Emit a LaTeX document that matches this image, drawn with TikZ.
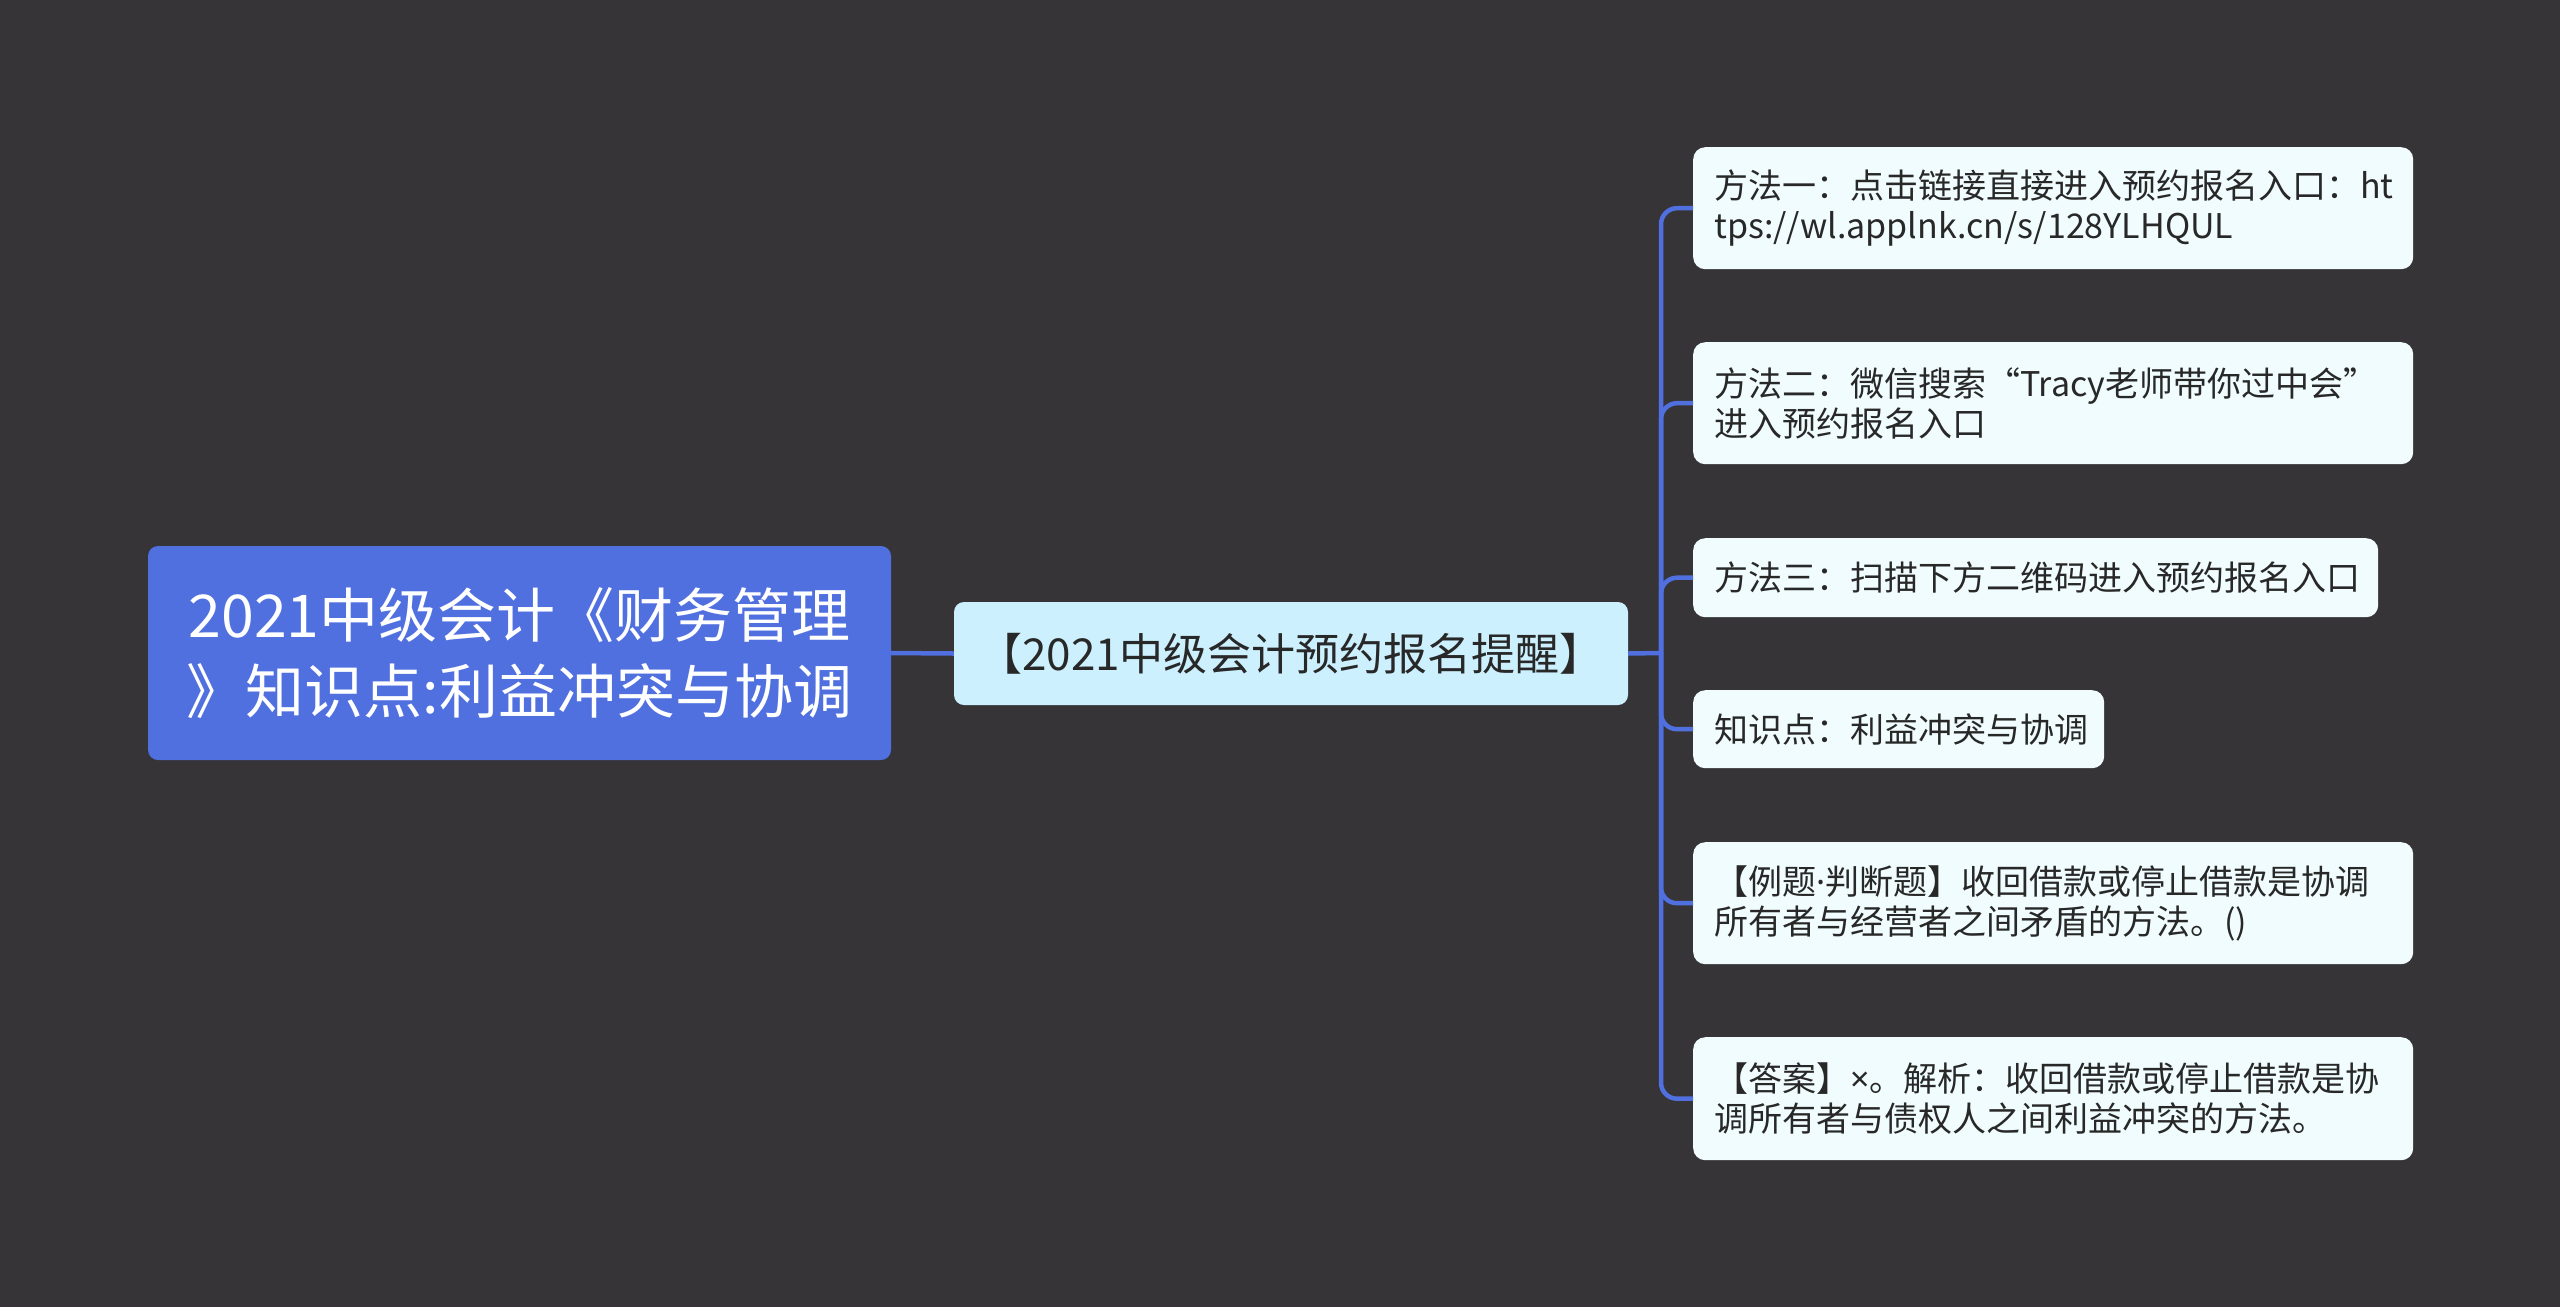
\documentclass[tikz,border=0pt]{standalone}
\usepackage{fontspec}
\newfontfamily\cjk{Noto Sans CJK SC}
\newfontfamily\latn{Noto Sans}
\definecolor{bg}{RGB}{54,52,54}
\definecolor{rootblue}{RGB}{80,112,224}
\definecolor{lineblue}{RGB}{80,112,224}
\definecolor{midfill}{RGB}{204,240,253}
\definecolor{leaffill}{RGB}{240,252,253}
\definecolor{txt}{RGB}{40,40,40}
\tikzset{
  rootbox/.style={fill=rootblue, rounded corners=10pt, text=white,
    font=\cjk\fontsize{59}{76}\selectfont, align=center,
    minimum width=743pt, minimum height=214pt, inner sep=0pt},
  midbox/.style={fill=midfill, rounded corners=10pt, text=txt,
    font=\cjk\fontsize{44}{52}\selectfont,
    minimum width=674pt, minimum height=103pt, inner sep=0pt},
  leaf/.style={fill=leaffill, rounded corners=12pt, text=txt,
    font=\cjk\fontsize{34}{40}\selectfont, align=left, anchor=north west,
    inner xsep=21pt, inner ysep=0pt},
  link/.style={draw=lineblue, line width=4.5pt},
}
\begin{document}
\begin{tikzpicture}[x=1pt,y=-1pt]
\path[fill=bg] (0,0) rectangle (2560,1307);
\node[rootbox] (root) at (519.5,653) {2021中级会计《财务管理\\》知识点:利益冲突与协调};
\node[midbox] (mid) at (1291,653.5) {【2021中级会计预约报名提醒】};
\node[leaf, text width=678pt, minimum height=122pt] (l1) at (1693,147)
  {方法一：点击链接直接进入预约报名入口：ht\\tps://wl.applnk.cn/s/128YLHQUL};
\node[leaf, text width=678pt, minimum height=122pt] (l2) at (1693,342)
  {方法二：微信搜索“Tracy老师带你过中会”\\进入预约报名入口};
\node[leaf, text width=643pt, minimum height=79pt] (l3) at (1693,538)
  {方法三：扫描下方二维码进入预约报名入口};
\node[leaf, text width=369pt, minimum height=78pt] (l4) at (1693,690)
  {知识点：利益冲突与协调};
\node[leaf, text width=678pt, minimum height=122pt] (l5) at (1693,842)
  {【例题{\latn ·}判断题】收回借款或停止借款是协调\\所有者与经营者之间矛盾的方法。()};
\node[leaf, text width=678pt, minimum height=123pt] (l6) at (1693,1037)
  {【答案】{\latn ×}。解析：收回借款或停止借款是协\\调所有者与债权人之间利益冲突的方法。};
\coordinate (j) at (1661,653);
\draw[link] (root.east) -- (mid.west);
\draw[link] (mid.east) -- (j);
\foreach \n in {l1,l2,l3,l4,l5,l6}
  \draw[link, rounded corners=16pt] (j) |- (\n.west);
\end{tikzpicture}
\end{document}
